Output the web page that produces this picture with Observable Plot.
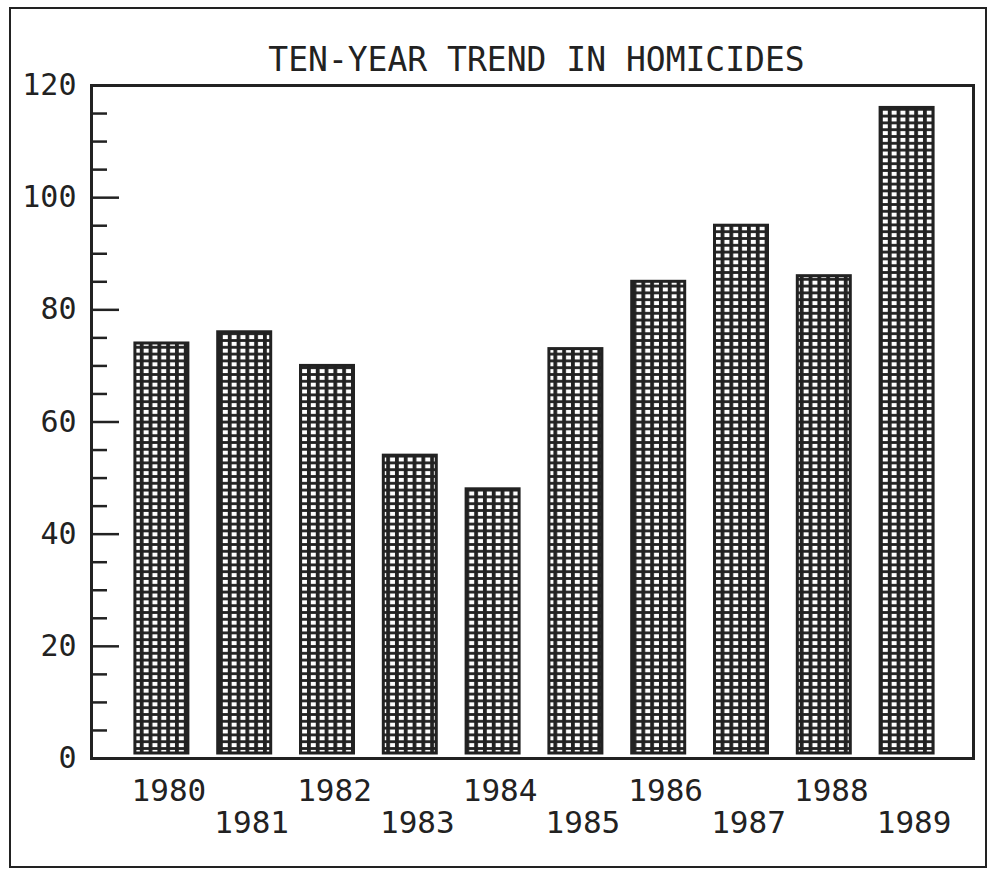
<!DOCTYPE html>
<html>
<head>
<meta charset="utf-8">
<script src="https://cdn.jsdelivr.net/npm/d3@7"></script>
<script src="https://cdn.jsdelivr.net/npm/@observablehq/plot@0.6"></script>
<style>
  html, body { margin: 0; padding: 0; background: #fff; }
  #wrap { position: relative; width: 992px; height: 873px; }
  #border { position: absolute; left: 9px; top: 7px; width: 974px; height: 857px; border: 2px solid #222; box-sizing: content-box; }
  #chart { position: absolute; left: 0; top: 0; }
</style>
</head>
<body>
<div id="wrap"><div id="border"></div><div id="chart"></div></div>
<script>
const title = "TEN-YEAR TREND IN HOMICIDES";
const years = ["1980","1981","1982","1983","1984","1985","1986","1987","1988","1989"];
const homicides = [74, 76, 70, 54, 48, 73, 85, 95, 86, 116];
const majorTicks = [0, 20, 40, 60, 80, 100, 120];
const minorTicks = [5,10,15,25,30,35,45,50,55,65,70,75,85,90,95,105,110,115];

const data = years.map((y, i) => ({year: y, value: homicides[i]}));
const font = "'DejaVu Sans Mono', 'Liberation Mono', monospace";
const ink = "#222";

const W = 992, H = 873, mL = 91, mR = 19;
const plotW = W - mL - mR;

const chart = Plot.plot({
  width: W,
  height: H,
  marginLeft: mL,
  marginRight: mR,
  marginTop: 85,
  marginBottom: 115,
  style: {fontFamily: font, background: "transparent", color: ink},
  x: {domain: years, paddingInner: 0.36, paddingOuter: 0.18, insetLeft: 29, insetRight: 25, round: false, axis: null},
  y: {domain: [0, 120], axis: null},
  marks: [
    Plot.barY(data, {x: "year", y: "value", fill: "url(#gridpat)", stroke: ink, strokeWidth: 3, insetBottom: 5}),
    Plot.frame({stroke: ink, strokeWidth: 3}),
    Plot.tickY(majorTicks, {y: d => d, stroke: ink, strokeWidth: 2.5, insetRight: plotW - 28}),
    Plot.tickY(minorTicks, {y: d => d, stroke: ink, strokeWidth: 2.5, insetRight: plotW - 16}),
    Plot.axisY({ticks: majorTicks, tickSize: 0, tickPadding: 15, fontSize: 30, label: null, fill: ink}),
    Plot.text(years.filter((d, i) => i % 2 === 0), {x: d => d, frameAnchor: "bottom", dy: 42, dx: 7, fontSize: 31, fill: ink}),
    Plot.text(years.filter((d, i) => i % 2 === 1), {x: d => d, frameAnchor: "bottom", dy: 74, dx: 7, fontSize: 31, fill: ink}),
    Plot.text([title], {frameAnchor: "top", dy: -38, dx: 4, fontSize: 33, fill: ink, text: d => d})
  ]
});

chart.insertAdjacentHTML("afterbegin",
  `<defs><pattern id="gridpat" patternUnits="userSpaceOnUse" width="8.8" height="6.8">
     <rect width="8.8" height="6.8" fill="${ink}"/>
     <rect x="2.8" y="1.9" width="5.0" height="4.0" fill="#fff"/>
   </pattern></defs>`);

document.getElementById("chart").appendChild(chart);
</script>
</body>
</html>
